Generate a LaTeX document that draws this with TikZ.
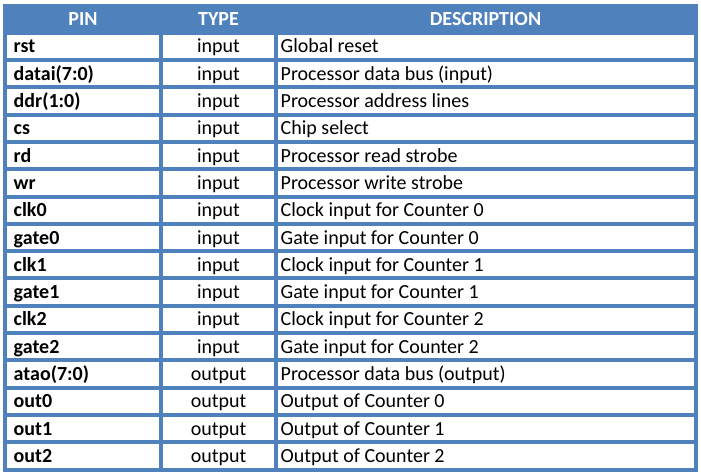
\documentclass[tikz,border=0pt]{standalone}
\usepackage{fontspec}
\setmainfont{Carlito}
\definecolor{tblue}{RGB}{79,129,189}
\begin{document}
\begin{tikzpicture}[x=1pt,y=-1pt,
  cell/.style={inner sep=0pt,font=\fontsize{20}{23}\selectfont},
  pincell/.style={cell,font=\fontsize{20}{23}\selectfont\bfseries,anchor=base west},
  typecell/.style={cell,anchor=base},
  desccell/.style={cell,anchor=base west},
  headcell/.style={cell,font=\fontsize{20}{23}\selectfont\bfseries,text=white,anchor=base}]
\useasboundingbox (0,0) rectangle (701,476);
\fill[white] (0,0) rectangle (701,476);
\fill[tblue] (3,4) rectangle (698,471.5);
\node[headcell] (hpin) at (83,26) {PIN};
\node[headcell] (htype) at (218.5,26) {TYPE};
\node[headcell] (hdesc) at (485.5,26) {DESCRIPTION};
\foreach \p/\t/\d [count=\i] in {
  rst/input/Global reset,
  datai(7:0)/input/Processor data bus (input),
  ddr(1:0)/input/Processor address lines,
  cs/input/Chip select,
  rd/input/Processor read strobe,
  wr/input/Processor write strobe,
  clk0/input/Clock input for Counter 0,
  gate0/input/Gate input for Counter 0,
  clk1/input/Clock input for Counter 1,
  gate1/input/Gate input for Counter 1,
  clk2/input/Clock input for Counter 2,
  gate2/input/Gate input for Counter 2,
  atao(7:0)/output/Processor data bus (output),
  out0/output/Output of Counter 0,
  out1/output/Output of Counter 1,
  out2/output/Output of Counter 2}{
  \pgfmathsetmacro\yc{46.35+(\i-1)*27.3}
  \fill[white] (7,\yc-11.65) rectangle (159,\yc+11.65);
  \fill[white] (163,\yc-11.65) rectangle (274,\yc+11.65);
  \fill[white] (278,\yc-11.65) rectangle (693.5,\yc+11.65);
  \node[pincell] (p\i) at (13.5,\yc+6.6) {\p};
  \node[typecell] (t\i) at (218.5,\yc+6.6) {\t};
  \node[desccell] (d\i) at (280.5,\yc+6.6) {\d};
}
\end{tikzpicture}
\end{document}
